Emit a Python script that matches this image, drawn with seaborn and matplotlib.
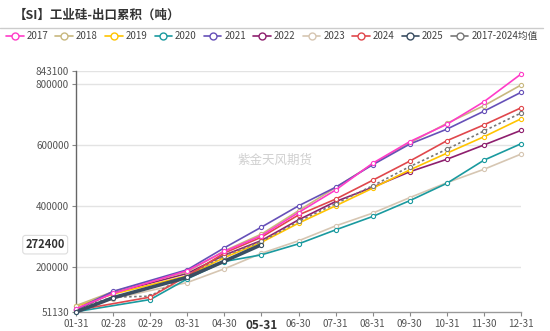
import numpy as np
import pandas as pd
import matplotlib
matplotlib.use("Agg")
import matplotlib.pyplot as plt
from matplotlib.lines import Line2D
import seaborn as sns

sns.set_theme(style="white")
plt.rcParams['font.family'] = ['Noto Sans CJK SC', 'DejaVu Sans']

title = "【SI】工业硅-出口累积（吨）"
categories = ['01-31', '02-28', '02-29', '03-31', '04-30', '05-31', '06-30',
              '07-31', '08-31', '09-30', '10-31', '11-30', '12-31']
N = None
s2017 = [62000, 112000, N, 187000, 250000, 302000, 378000, 452000, 540000, 611000, 668000, 742000, 833000]
s2018 = [72000, 118000, N, 183000, 252000, 307000, 384000, 460000, 537000, 607000, 671000, 729000, 797000]
s2019 = [70000, 110000, N, 170000, 230000, 280000, 343000, 400000, 458000, 518000, 573000, 627000, 686000]
s2020 = [52000, N, 92000, 160000, 217000, 239000, 275000, 321000, 365000, 417000, 474000, 550000, 604000]
s2021 = [60000, 119000, N, 190000, 262000, 330000, 400000, 461000, 535000, 603000, 652000, 711000, 773000]
s2022 = [58000, 114000, N, 178000, 238000, 286000, 354000, 414000, 461000, 512000, 553000, 600000, 648000]
s2023 = [55000, 95000, N, 148000, 193000, 244000, 285000, 334000, 376000, 427000, 476000, 520000, 570000]
s2024 = [57000, N, 100000, 170000, 245000, 297000, 370000, 422000, 484000, 547000, 614000, 666000, 722000]
s2025 = [51130, 98000, N, 165000, 218000, 272400, N, N, N, N, N, N, N]
savg = [61000, 100000, 103000, 173000, 236000, 283000, 349000, 407000, 466000, 529000, 586000, 646000, 705000]

series_names = ['2017', '2018', '2019', '2020', '2021', '2022', '2023', '2024', '2025', '2017-2024均值']
series_vals = [s2017, s2018, s2019, s2020, s2021, s2022, s2023, s2024, s2025, savg]
colors = ['#ff3cc8', '#c8b87e', '#ffc400', '#1a9a9f', '#6650b8', '#8e1f6e',
          '#d6c6b2', '#e0474c', '#3a4e62', '#777777']
yticks = [51130, 200000, 400000, 600000, 800000, 843100]

rows = []
for name, vals in zip(series_names, series_vals):
    for i, v in enumerate(vals):
        if v is not None:
            rows.append({'series': name, 'x': i, 'cat': categories[i], 'value': v})
df = pd.DataFrame(rows)

fig = plt.figure(figsize=(5.5, 3.31), dpi=100)
ax = fig.add_axes([76/550, 1-312/331, (521-76)/550, (312-71)/331])

order = ['2023', '2020', '2022', '2019', '2017-2024均值', '2024', '2018', '2021', '2017', '2025']
for name in order:
    c = colors[series_names.index(name)]
    sub = df[df['series'] == name]
    lw = 2.6 if name == '2025' else 1.2
    ls = (0, (1.5, 1.5)) if name == '2017-2024均值' else '-'
    sns.lineplot(data=sub, x='x', y='value', ax=ax, color=c, linewidth=lw,
                 linestyle=ls, marker='o', markersize=3.0, markerfacecolor='white',
                 markeredgecolor=c, markeredgewidth=0.8, estimator=None, sort=False,
                 clip_on=False, zorder=3)

ax.set_xlim(0, len(categories) - 1)
ax.set_ylim(51130, 843100)
ax.set_xticks(range(len(categories)))
ax.set_xticklabels(categories)
ax.set_yticks(yticks)
ax.set_yticklabels([str(t) for t in yticks])
ax.set_xlabel('')
ax.set_ylabel('')
for t in yticks[1:]:
    ax.axhline(t, color='#e3e3e3', linewidth=1.0, zorder=0)
for sp in ['top', 'right']:
    ax.spines[sp].set_visible(False)
ax.spines['left'].set_color('#666666')
ax.spines['left'].set_linewidth(1.0)
ax.spines['bottom'].set_color('#999999')
ax.spines['bottom'].set_linewidth(1.0)
ax.tick_params(axis='both', which='both', length=3, width=0.8, color='#888888',
               labelsize=7.2, labelcolor='#555555', pad=2, direction='out',
               bottom=True, left=True)
for lab in ax.get_xticklabels():
    if lab.get_text() == '05-31':
        lab.set_fontweight('bold')
        lab.set_fontsize(8.5)
        lab.set_color('#333333')

# axis pointer label
ax.text(-0.025, 272400, '272400', transform=ax.get_yaxis_transform(), ha='right', va='center',
        fontsize=8, fontweight='bold', color='#333333',
        bbox=dict(boxstyle='round,pad=0.25', fc='white', ec='#dddddd', lw=0.8))

# watermark
fig.text(0.5, 0.515, '紫金天风期货', ha='center', va='center', fontsize=9, color='#d0d0d0')

# title
fig.text(14/550, 1-15/331, title, ha='left', va='center', fontsize=9, fontweight='bold', color='#333333')
fig.add_artist(Line2D([0, 543/550], [1-28/331, 1-28/331], color='#cccccc', linewidth=1.0))

handles = []
for name, c in zip(series_names, colors):
    handles.append(Line2D([0], [0], color=c, linewidth=1.2, linestyle='-', marker='o',
                          markersize=5, markerfacecolor='white', markeredgecolor=c))
fig.legend(handles, series_names, loc='center left', bbox_to_anchor=(6/550, 1-36/331),
           ncol=10, frameon=False, fontsize=7.0, handlelength=1.8, handletextpad=0.3,
           columnspacing=0.75, borderaxespad=0, borderpad=0, labelcolor='#444444')

fig.savefig('out.png', dpi=100)
